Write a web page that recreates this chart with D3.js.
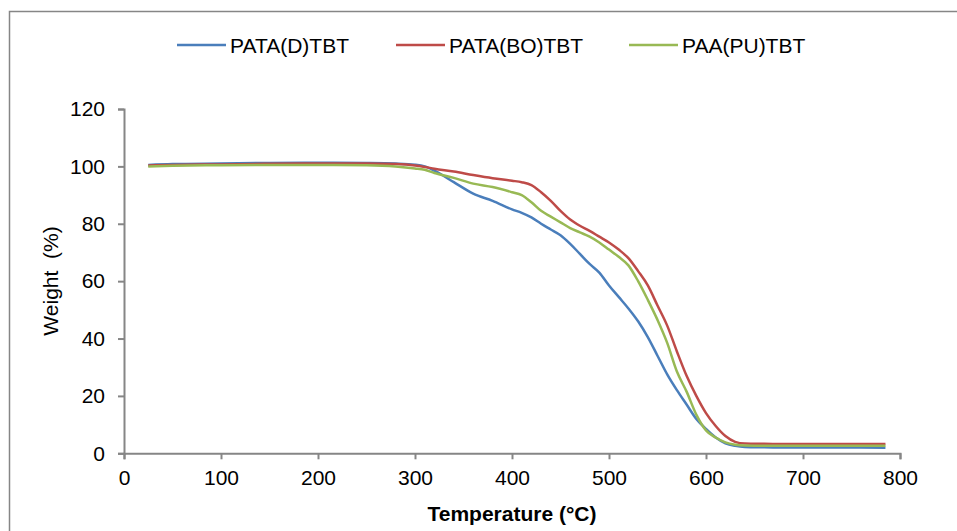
<!DOCTYPE html>
<html>
<head>
<meta charset="utf-8">
<script src="https://cdn.jsdelivr.net/npm/d3@7"></script>
<style>
  body { margin: 0; background: #fff; }
  svg { font-family: "Liberation Sans", Arial, sans-serif; }
</style>
</head>
<body>
<script>
// temperature (°C) sample points
var temps = [25, 50, 100, 150, 200, 250, 280, 300, 310, 320, 340, 360, 380, 400, 410, 420, 430, 440, 450, 460, 470, 480, 490, 500, 510, 520, 530, 540, 550, 560, 570, 580, 590, 600, 610, 620, 630, 640, 660, 700, 750, 785];

// weight (%) per series
var pataD = [100.5, 100.8, 101, 101.2, 101.3, 101.2, 101, 100.6, 100, 98.5, 94.5, 90.5, 88, 85, 83.8, 82.2, 80, 78, 76, 73, 69.5, 66, 63, 58.5, 54.5, 50.5, 46, 40.5, 34, 27.5, 22, 17, 12, 8.5, 5.5, 3.5, 2.6, 2.2, 2.1, 2, 2, 1.9];
var pataBO = [100.3, 100.5, 100.7, 100.9, 101, 101, 100.8, 100.3, 99.8, 99.2, 98.2, 97, 95.9, 95, 94.5, 93.5, 91, 88, 84.5, 81.5, 79.3, 77.5, 75.5, 73.5, 71, 68, 63.5, 58.5, 51.5, 44.5, 35.5, 27, 20, 14, 9.5, 6, 4, 3.4, 3.3, 3.2, 3.2, 3.2];
var paaPU = [100, 100.2, 100.4, 100.5, 100.5, 100.4, 100, 99.3, 98.8, 97.7, 96, 94, 92.8, 91, 90, 87.5, 84.5, 82.5, 80.5, 78.5, 77, 75.5, 73.5, 71, 68.5, 65.5, 60, 53.5, 46.5, 38.5, 28.5, 21.5, 13.5, 8, 5.5, 3.8, 3, 2.7, 2.6, 2.6, 2.6, 2.6];

var seriesNames = ["PATA(D)TBT", "PATA(BO)TBT", "PAA(PU)TBT"];
var seriesColors = ["#4a7ebb", "#be4b48", "#98b954"];
var xTicks = [0, 100, 200, 300, 400, 500, 600, 700, 800];
var yTicks = [0, 20, 40, 60, 80, 100, 120];

var series = [pataD, pataBO, paaPU];

var margin = {top: 109, right: 57, bottom: 78, left: 124};
var height = 531 - margin.top - margin.bottom;

var svg = d3.select("body").append("svg")
    .attr("width", 957)
    .attr("height", 531);

// chart border
svg.append("rect")
    .attr("x", 9.5).attr("y", 11.5)
    .attr("width", 960).attr("height", 540)
    .attr("fill", "none")
    .attr("stroke", "#868686")
    .attr("stroke-width", 1.5);

var g = svg.append("g")
    .attr("transform", "translate(" + margin.left + "," + margin.top + ")");

var x = d3.scaleLinear().domain([0, 800]).range([0, 776]);
var y = d3.scaleLinear().domain([0, 120]).range([height + 0.3, 0]);

var xAxis = d3.axisBottom(x).tickValues(xTicks).tickSize(6).tickSizeOuter(6).tickPadding(11);
var yAxis = d3.axisLeft(y).tickValues(yTicks).tickSize(6).tickSizeOuter(6).tickPadding(13);

var gx = g.append("g")
    .attr("transform", "translate(0," + y(0) + ")")
    .call(xAxis);
var gy = g.append("g")
    .call(yAxis);

[gx, gy].forEach(function(a) {
  a.select(".domain").attr("stroke", "#868686").attr("stroke-width", 2);
  a.selectAll(".tick line").attr("stroke", "#868686").attr("stroke-width", 2);
  a.selectAll(".tick text").attr("fill", "#000").style("font-size", "21px")
    .style("font-family", "Liberation Sans, Arial, sans-serif");
});

var line = d3.line()
    .x(function(d, i) { return x(temps[i]); })
    .y(function(d) { return y(d); })
    .curve(d3.curveMonotoneX);

g.selectAll(".series")
    .data(series)
  .enter().append("path")
    .attr("class", "series")
    .attr("fill", "none")
    .attr("stroke", function(d, i) { return seriesColors[i]; })
    .attr("stroke-width", 2.5)
    .attr("d", line);

// axis titles
svg.append("text")
    .attr("x", 512).attr("y", 521)
    .attr("text-anchor", "middle")
    .style("font-size", "21px")
    .style("font-weight", "bold")
    .text("Temperature (°C)");

svg.append("text")
    .attr("transform", "translate(58,281) rotate(-90)")
    .attr("text-anchor", "middle")
    .style("font-size", "21px")
    .style("white-space", "pre")
    .text("Weight  (%)");

// legend
var legendX = [177, 396, 629];
var legend = svg.selectAll(".legend")
    .data(seriesNames)
  .enter().append("g")
    .attr("class", "legend")
    .attr("transform", function(d, i) { return "translate(" + legendX[i] + ",45)"; });

legend.append("line")
    .attr("x1", 0).attr("x2", 49)
    .attr("stroke", function(d, i) { return seriesColors[i]; })
    .attr("stroke-width", 2.5);

legend.append("text")
    .attr("x", 53).attr("y", 7.5)
    .style("font-size", "21px")
    .text(function(d) { return d; });
</script>
</body>
</html>
